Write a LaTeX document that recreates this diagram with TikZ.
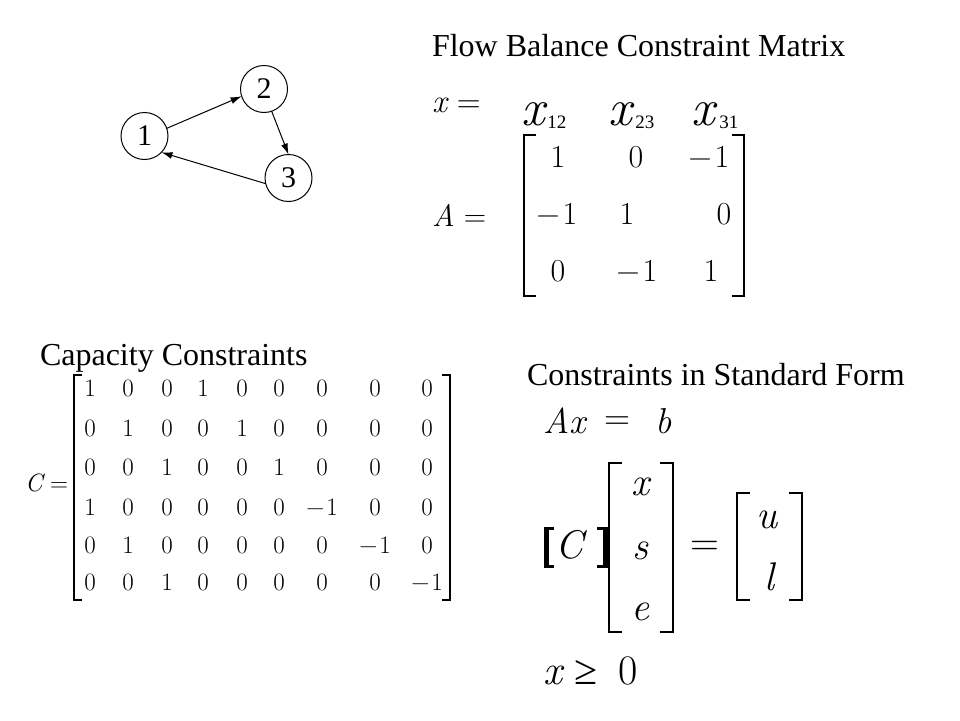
\documentclass[tikz,border=0pt]{standalone}
\usepackage{fontspec}
\setmainfont{Liberation Serif}
\newfontfamily\lmr{Latin Modern Roman}
\usetikzlibrary{arrows.meta}
\newcommand{\fs}[1]{\fontsize{#1}{#1}\selectfont}
\newcommand{\varit}[1]{{\lmr\itshape #1}}
\newcommand{\LBr}[5]{\draw[#1] (#2+#5,#3) -- (#2,#3) -- (#2,#4) -- (#2+#5,#4);}
\newcommand{\RBr}[5]{\draw[#1] (#2-#5,#3) -- (#2,#3) -- (#2,#4) -- (#2-#5,#4);}
\begin{document}
\begin{tikzpicture}[x=1pt,y=-1pt,
  every node/.style={inner sep=0pt, outer sep=0pt},
  ttl/.style={font=\fs{32}, anchor=base west},
  vert/.style={circle, draw, line width=1pt, minimum size=47pt, font=\fs{30}},
  edgearrow/.style={-{Latex[length=11pt,width=7pt]}, line width=1pt},
  amat/.style={font=\fs{32}\lmr},
  cmat/.style={font=\fs{25}\lmr},
  bigvar/.style={font=\fs{40}\lmr\itshape},
  brk/.style={line width=2.4pt, line cap=butt, line join=miter},
  cbrk/.style={line width=1.6pt, line join=miter},
]
\useasboundingbox (0,0) rectangle (960,720);

% titles
\node[ttl] (t1) at (432,56) {Flow Balance Constraint Matrix};
\node[ttl] (t2) at (40,365) {Capacity Constraints};
\node[ttl] (t3) at (527,385) {Constraints in Standard Form};

% graph
\node[vert] (v1) at (144.5,136) {1};
\node[vert] (v2) at (264,89) {2};
\node[vert] (v3) at (288.5,178) {3};
\draw[edgearrow] (v1.19) -- (v2.198);
\draw[edgearrow] (v2.-71) -- (v3.90);
\draw[edgearrow] (v3.194) -- (v1.-44);

% x = and A =
\node[font=\fs{33}\lmr, anchor=base west] (xeq) at (432,112) {\varit{x} =};
\node[font=\fs{31}\lmr, anchor=base west] (aeq) at (432,226) {\varit{A} =};
\node[anchor=base west] (x12) at (521,125) {{\fs{52}\varit{x}}\hspace{3pt}\raisebox{-3pt}{\fs{19}12}};
\node[anchor=base west] (x23) at (608,125) {{\fs{52}\varit{x}}\hspace{4pt}\raisebox{-3pt}{\fs{19}23}};
\node[anchor=base west] (x31) at (691,125) {{\fs{52}\varit{x}}\hspace{5pt}\raisebox{-3pt}{\fs{19}31}};

% A matrix
\LBr{brk}{524}{135}{296}{12}
\RBr{brk}{744}{135}{296}{12}
\node[amat] (a11) at (558,157) {1};
\node[amat] (a12) at (636,157) {0};
\node[amat] (a13) at (709,157) {−\hspace{3pt}1};
\node[amat] (a21) at (557,214) {−\hspace{3pt}1};
\node[amat] (a22) at (627,214) {1};
\node[amat] (a23) at (724,214) {0};
\node[amat] (a31) at (558,271) {0};
\node[amat] (a32) at (637,271) {−\hspace{3pt}1};
\node[amat] (a33) at (711,271) {1};

% C matrix
\node[font=\fs{25}\lmr, anchor=base west] (ceq) at (25,491) {\varit{C} =};
\LBr{cbrk}{74}{375}{600}{8}
\RBr{cbrk}{450}{375}{600}{8}
\foreach \y/\vals [count=\i] in {388/{1,0,0,1,0,0,0,0,0},
                                 428/{0,1,0,0,1,0,0,0,0},
                                 467/{0,0,1,0,0,1,0,0,0},
                                 507/{1,0,0,0,0,0,−\hspace{2pt}1,0,0},
                                 545/{0,1,0,0,0,0,0,−\hspace{2pt}1,0},
                                 582/{0,0,1,0,0,0,0,0,−\hspace{2pt}1}} {
  \foreach \v [count=\j] in \vals {
    \pgfmathsetmacro{\xx}{{90,128,167,203,242,279,322,375,427}[\j-1]}
    \node[cmat] (c\i\j) at (\xx,\y) {\v};
  }
}

% Standard form
\node[font=\fs{36}, anchor=base west] (ax) at (543,433) {\varit{Ax}};
\node[font=\fs{36}\lmr] (eqb) at (617,423) {=};
\node[font=\fs{36}, anchor=base west] (bb) at (655,433) {\varit{b}};

% [C ]
\fill (544,527) rectangle (549,568);
\fill (544,527) rectangle (554,530);
\fill (544,565) rectangle (554,568);
\fill (603,527) rectangle (608,568);
\fill (597,527) rectangle (608,530);
\fill (597,565) rectangle (608,568);
\node[font=\fs{40}\lmr\itshape] (cc) at (569,545) {C};

% vector x s e
\LBr{brk}{609}{463}{632}{13}
\RBr{brk}{673}{463}{632}{13}
\node[bigvar] (vx) at (640,487) {x};
\node[bigvar] (vs) at (640,551) {s};
\node[bigvar] (ve) at (640,612) {e};
\node[font=\fs{40}\lmr] (eqc) at (705,548) {=};
\LBr{brk}{737}{493}{600}{13}
\RBr{brk}{802}{493}{600}{13}
\node[bigvar] (vu) at (767,520) {u};
\node[bigvar] (vl) at (769,577) {l};

% x >= 0
\node[font=\fs{42}, anchor=base west] (xge) at (543,684) {\varit{x}\hspace{13pt}≥\hspace{21pt}{\lmr 0}};
\end{tikzpicture}
\end{document}
